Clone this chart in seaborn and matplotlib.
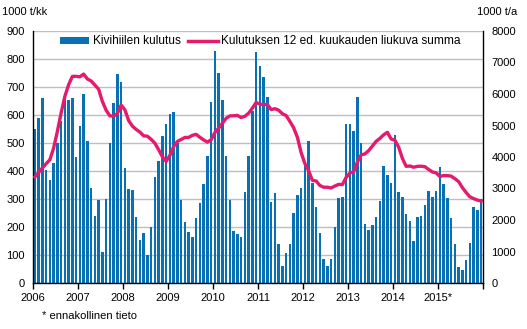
import numpy as np
import pandas as pd
import matplotlib
matplotlib.use("Agg")
import matplotlib.pyplot as plt
import seaborn as sns
from matplotlib.patches import Patch
from matplotlib.lines import Line2D

# ---- data (1000 t per month) ----
years = ["2006", "2007", "2008", "2009", "2010", "2011", "2012", "2013", "2014", "2015*"]
coal_2006 = [551, 590, 662, 405, 369, 430, 500, 580, 680, 655, 662, 451]
coal_2007 = [562, 676, 508, 340, 240, 298, 112, 301, 501, 644, 748, 719]
coal_2008 = [412, 335, 331, 235, 155, 180, 99, 201, 380, 437, 526, 569]
coal_2009 = [602, 611, 499, 297, 219, 182, 165, 232, 287, 354, 455, 646]
coal_2010 = [829, 750, 654, 455, 296, 186, 176, 165, 325, 454, 615, 826]
coal_2011 = [775, 735, 663, 290, 323, 140, 62, 108, 140, 251, 315, 340]
coal_2012 = [425, 507, 357, 271, 179, 86, 61, 86, 200, 304, 307, 568]
coal_2013 = [568, 543, 664, 500, 211, 189, 207, 236, 293, 418, 386, 357]
coal_2014 = [529, 325, 307, 246, 221, 150, 236, 239, 279, 329, 307, 329]
coal_2015 = [414, 354, 304, 232, 139, 57, 46, 82, 143, 271, 261, 300]

# 12-month moving sum (1000 t per year)
sum_2006 = [3365, 3511, 3651, 3787, 3914, 4286, 4813, 5397, 5924, 6295, 6560, 6560]
sum_2007 = [6546, 6632, 6478, 6413, 6284, 6152, 5764, 5485, 5306, 5295, 5381, 5649]
sum_2008 = [5499, 5158, 4981, 4876, 4791, 4673, 4660, 4560, 4439, 4232, 4010, 3860]
sum_2009 = [4050, 4326, 4494, 4556, 4620, 4622, 4688, 4719, 4626, 4543, 4472, 4549]
sum_2010 = [4776, 4915, 5070, 5228, 5305, 5309, 5320, 5253, 5291, 5391, 5551, 5731]
sum_2011 = [5677, 5662, 5671, 5506, 5533, 5487, 5373, 5316, 5131, 4928, 4628, 4142]
sum_2012 = [3792, 3564, 3258, 3239, 3095, 3041, 3040, 3018, 3078, 3131, 3123, 3351]
sum_2013 = [3494, 3530, 3837, 4066, 4098, 4201, 4347, 4497, 4590, 4704, 4783, 4572]
sum_2014 = [4533, 4315, 3958, 3704, 3714, 3675, 3704, 3707, 3693, 3604, 3525, 3497]
sum_2015 = [3382, 3411, 3408, 3394, 3312, 3219, 3029, 2872, 2736, 2678, 2632, 2603]

coal = (coal_2006 + coal_2007 + coal_2008 + coal_2009 + coal_2010 +
        coal_2011 + coal_2012 + coal_2013 + coal_2014 + coal_2015)
msum = (sum_2006 + sum_2007 + sum_2008 + sum_2009 + sum_2010 +
        sum_2011 + sum_2012 + sum_2013 + sum_2014 + sum_2015)

df = pd.DataFrame({"m": np.arange(len(coal)), "coal": coal, "msum": msum})

BLUE = "#0870b3"
PINK = "#e5196d"
GRID = "#bfbfbf"

plt.rcParams["font.family"] = ["Liberation Sans", "DejaVu Sans"]
W, H = 527, 329
fig = plt.figure(figsize=(W / 100, H / 100), dpi=100)
ax = fig.add_axes([33 / W, (H - 283) / H, 450 / W, 252 / H])

sns.barplot(data=df, x="m", y="coal", native_scale=True, color=BLUE,
            width=0.68, saturation=1, ax=ax, zorder=2)
ax.set_xlim(-0.5, len(coal) - 0.5)
ax.set_ylim(0, 900)
ax.set_yticks(np.arange(0, 901, 100))
ax.yaxis.grid(True, color=GRID, lw=1)
ax.set_axisbelow(True)
ax.set_xlabel("")
ax.set_ylabel("")
ax.set_xticks(np.arange(0, len(coal) + 1, 12) - 0.5)
ax.set_xticklabels(years + [""])
ax.tick_params(axis="x", length=4, width=1, labelsize=8, pad=3, color="black")
ax.tick_params(axis="y", length=0, labelsize=8, pad=6)
for s in ["left", "bottom"]:
    ax.spines[s].set_color("black")
    ax.spines[s].set_linewidth(1)
ax.spines["top"].set_visible(False)
ax.spines["right"].set_visible(False)

ax2 = ax.twinx()
sns.lineplot(data=df, x="m", y="msum", color=PINK, lw=2.4, ax=ax2)
ax2.set_ylim(0, 8000)
ax2.set_yticks(np.arange(0, 8001, 1000))
ax2.set_ylabel("")
ax2.tick_params(axis="y", length=0, labelsize=8, pad=6)
ax2.spines["right"].set_color("black")
ax2.spines["right"].set_linewidth(1)
ax2.spines["top"].set_visible(False)
ax2.spines["left"].set_visible(False)
ax2.spines["bottom"].set_visible(False)

handles = [Patch(facecolor=BLUE, edgecolor="none"),
           Line2D([0], [0], color=PINK, lw=2.5)]
labels = ["Kivihiilen kulutus", "Kulutuksen 12 ed. kuukauden liukuva summa"]
ax2.legend(handles, labels, loc="upper left", bbox_to_anchor=(0.035, 1.025),
           ncol=2, frameon=False, fontsize=8.6, handlelength=2.5, handleheight=0.5,
           handletextpad=0.3, columnspacing=0.6)

fig.text(2 / W, 1 - 12 / H, "1000 t/kk", fontsize=8, va="center", ha="left")
fig.text(517 / W, 1 - 12 / H, "1000 t/a", fontsize=8, va="center", ha="right")
fig.text(42 / W, 1 - 316 / H, "* ennakollinen tieto", fontsize=8, va="center", ha="left")

fig.savefig("out.png", dpi=100)
